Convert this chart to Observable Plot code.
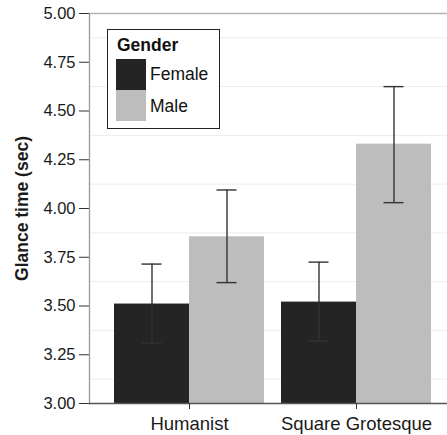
<!DOCTYPE html>
<html>
<head>
<meta charset="utf-8">
<script src="https://cdn.jsdelivr.net/npm/d3@7"></script>
<script src="https://cdn.jsdelivr.net/npm/@observablehq/plot@0.6"></script>
<style>
  html, body { margin: 0; padding: 0; background: #fff; overflow: hidden; }
  #wrap { position: relative; width: 447px; height: 435px; overflow: hidden; }
  #chart svg { max-width: none !important; width: 456px !important; height: 435px !important; display: block; }
  #legend { position: absolute; left: 107px; top: 29px; width: 113px; height: 100px;
    border: 1.3px solid #222; background: #fff; font-family: "Liberation Sans", Arial, sans-serif; box-sizing: border-box; }
  #legend .title { position: absolute; left: 9px; top: 5px; font-weight: bold; font-size: 17.5px; color: #111; }
  #legend .sw { position: absolute; left: 8px; width: 30px; height: 31px; }
  #legend .lab { position: absolute; left: 42px; font-size: 17.5px; color: #111; }
</style>
</head>
<body>
<div id="wrap"><div id="chart"></div>
<div id="legend"></div></div>
<script>
const fonts = ["Humanist", "Square Grotesque"];
const genders = ["Female", "Male"];
const colors = ["#242424", "#bdbdbd"];
const meanFemale = [3.51, 3.52];
const meanMale = [3.855, 4.33];
const lowFemale = [3.31, 3.32];
const highFemale = [3.715, 3.725];
const lowMale = [3.62, 4.03];
const highMale = [4.095, 4.625];
const yTicks = [3.00, 3.25, 3.50, 3.75, 4.00, 4.25, 4.50, 4.75, 5.00];
const minorGrid = [3.125, 3.375, 3.625, 3.875, 4.125, 4.375, 4.625, 4.875];

const female = fonts.map((f, i) => ({font: f, gender: "Female", mean: meanFemale[i], lo: lowFemale[i], hi: highFemale[i]}));
const male = fonts.map((f, i) => ({font: f, gender: "Male", mean: meanMale[i], lo: lowMale[i], hi: highMale[i]}));

const half = 75, quarter = 37.5, cap = 10;
const errStyle = {stroke: "#333", strokeWidth: 1.4};

const chart = Plot.plot({
  width: 456,
  height: 435,
  marginLeft: 89,
  marginRight: 0,
  marginTop: 13,
  marginBottom: 32,
  style: {fontFamily: "'Liberation Sans', Arial, sans-serif", fontSize: "17px", color: "#222", background: "#fff"},
  x: {domain: fonts, paddingInner: 0.1018, paddingOuter: 0.1497, round: false, label: null, axis: null},
  y: {domain: [3, 5], label: null, axis: null},
  color: {domain: genders, range: colors},
  marks: [
    Plot.ruleY(minorGrid, {stroke: "#ececec", strokeWidth: 1}),
    Plot.ruleY([5], {stroke: "#b5b5b5", strokeWidth: 1.5}),
    Plot.barY(female, {x: "font", y1: 3, y2: "mean", fill: "gender", insetRight: half}),
    Plot.barY(male, {x: "font", y1: 3, y2: "mean", fill: "gender", insetLeft: half}),
    Plot.ruleX(female, {x: "font", y1: "lo", y2: "hi", dx: -quarter, ...errStyle}),
    Plot.ruleX(male, {x: "font", y1: "lo", y2: "hi", dx: quarter, ...errStyle}),
    Plot.tickY(female, {x: "font", y: "lo", insetLeft: quarter - cap, insetRight: half + quarter - cap, ...errStyle}),
    Plot.tickY(female, {x: "font", y: "hi", insetLeft: quarter - cap, insetRight: half + quarter - cap, ...errStyle}),
    Plot.tickY(male, {x: "font", y: "lo", insetLeft: half + quarter - cap, insetRight: quarter - cap, ...errStyle}),
    Plot.tickY(male, {x: "font", y: "hi", insetLeft: half + quarter - cap, insetRight: quarter - cap, ...errStyle}),
    Plot.axisY({ticks: yTicks, tickFormat: d3.format(".2f"), tickSize: 10, tickPadding: 4, stroke: "#333", fill: "#1a1a1a", fontSize: 16.5,
      label: "Glance time (sec)", labelAnchor: "center", labelOffset: 74}),
    Plot.frame({anchor: "left", stroke: "#999", strokeWidth: 1.3}),
    Plot.ruleY([3], {stroke: "#555", strokeWidth: 1.3}),
    Plot.axisX({tickSize: 6, tickPadding: 7, stroke: "#333", fill: "#1a1a1a", fontSize: 18.5, label: null})
  ]
});
document.getElementById("chart").appendChild(chart);

// bold y-axis title without arrow
chart.querySelectorAll("text").forEach(t => {
  if (t.textContent.startsWith("Glance time")) {
    t.textContent = "Glance time (sec)";
    t.setAttribute("font-weight", "bold");
    t.setAttribute("font-size", "17.5");
  }
});

const leg = document.getElementById("legend");
leg.innerHTML = `<div class="title">Gender</div>` +
  genders.map((g, i) => `<div class="sw" style="top:${29 + i * 31}px;background:${colors[i]}"></div>` +
    `<div class="lab" style="top:${34 + i * 32}px">${g}</div>`).join("");
</script>
</body>
</html>
